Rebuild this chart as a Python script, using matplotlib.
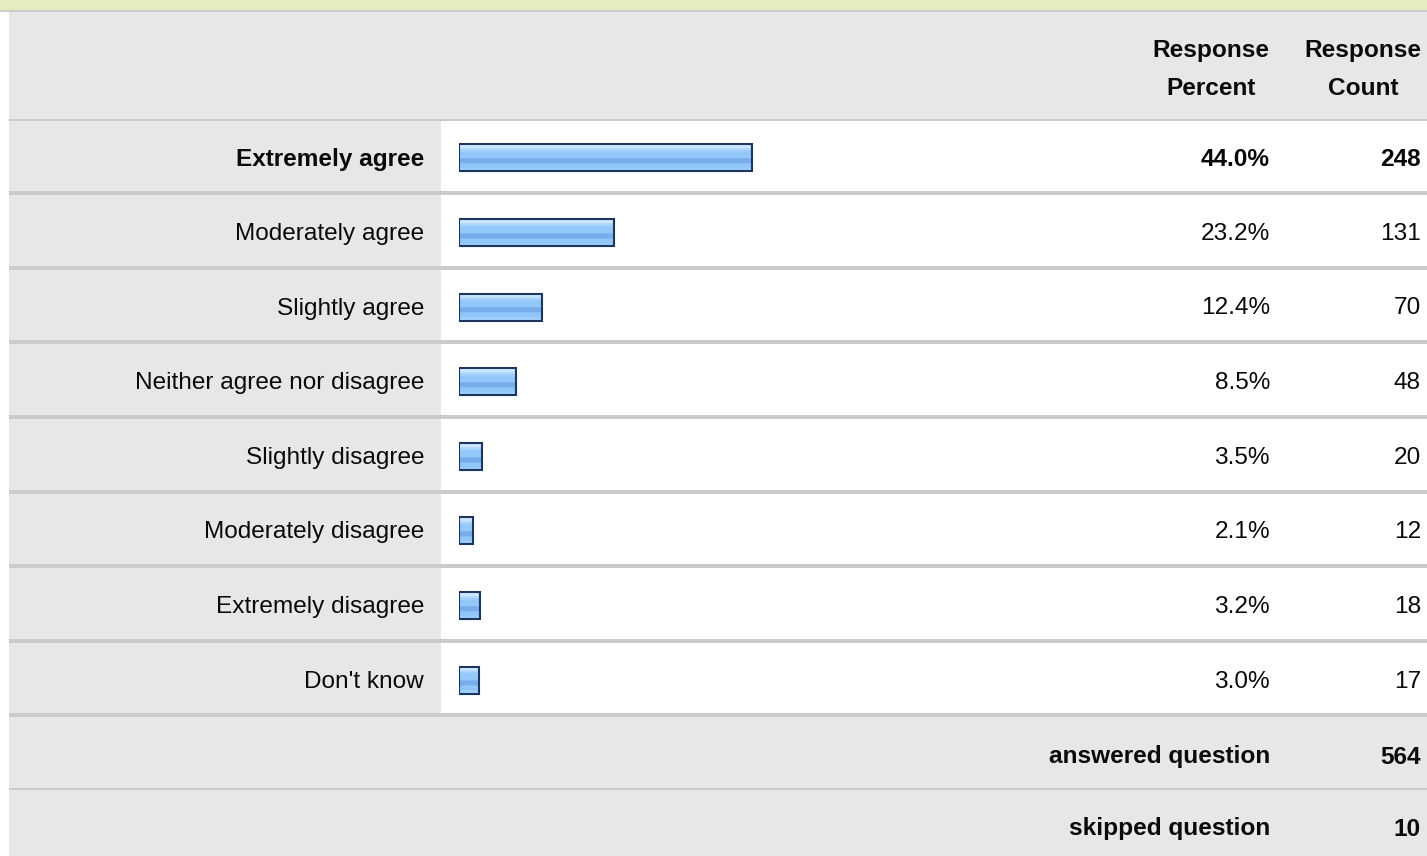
import matplotlib
matplotlib.use("Agg")
import matplotlib.pyplot as plt
import numpy as np
from matplotlib.patches import Rectangle
from matplotlib.colors import to_rgb

plt.rcParams['font.family'] = ['Liberation Sans', 'DejaVu Sans']

categories = ["Extremely agree", "Moderately agree", "Slightly agree",
              "Neither agree nor disagree", "Slightly disagree",
              "Moderately disagree", "Extremely disagree", "Don't know"]
percents = [44.0, 23.2, 12.4, 8.5, 3.5, 2.1, 3.2, 3.0]
counts = [248, 131, 70, 48, 20, 12, 18, 17]
header_cols = ["Response\nPercent", "Response\nCount"]
answered = 564
skipped = 10

W, H = 1427, 856
DPI = 100
fig = plt.figure(figsize=(W / DPI, H / DPI), dpi=DPI)
fig.patch.set_facecolor("white")

ax = fig.add_axes([0, 0, 1, 1])
ax.set_xlim(0, W)
ax.set_ylim(H, 0)
ax.axis("off")

GRAY = "#e7e7e7"
LINE = "#cbcbcb"
FS = 17.6
TC = "#0a0a0a"

def rect(x, y, w, h, c, z=0):
    ax.add_patch(Rectangle((x, y), w, h, facecolor=c, edgecolor="none", zorder=z))

# top band
rect(0, 0, W, 10, "#e6ebc0")
rect(0, 10, W, 2, LINE)
# header
rect(9, 12, W - 9, 107, GRAY)
rect(9, 119, W - 9, 2, LINE)

row_top = 120.5
n = len(categories)
row_h = 74.6
for i in range(n):
    y0 = row_top + i * row_h
    rect(9, y0, 432, row_h, GRAY)
    rect(441, y0, W - 441, row_h, "white")
    rect(9, y0 + row_h - 4, W - 9, 4, LINE, z=1)

foot0 = row_top + n * row_h
# footer rows
rect(9, foot0, W - 9, 788 - foot0, GRAY)
rect(9, 788, W - 9, 2, LINE)
rect(9, 790, W - 9, H - 790, GRAY)

# header texts
for txt, xc in zip(header_cols, [1211, 1363]):
    l1, l2 = txt.split("\n")
    ax.text(xc, 50, l1, ha="center", va="center", fontsize=FS, fontweight="bold", color=TC)
    ax.text(xc, 88, l2, ha="center", va="center", fontsize=FS, fontweight="bold", color=TC)

for i, (cat, p, c) in enumerate(zip(categories, percents, counts)):
    yc = row_top + (i + 0.5) * row_h + 1.5
    fw = "bold" if i == 0 else "normal"
    ax.text(424, yc, cat, ha="right", va="center", fontsize=FS, fontweight=fw, color=TC)
    ax.text(1270, yc, f"{p:.1f}%", ha="right", va="center", fontsize=FS, fontweight=fw, color=TC)
    ax.text(1421, yc, f"{c}", ha="right", va="center", fontsize=FS, fontweight=fw, color=TC)

ax.text(1270, 757, "answered question", ha="right", va="center", fontsize=FS, fontweight="bold", color=TC)
ax.text(1421, 757, f"{answered}", ha="right", va="center", fontsize=FS, fontweight="bold", color=TC)
ax.text(1270, 829, "skipped question", ha="right", va="center", fontsize=FS, fontweight="bold", color=TC)
ax.text(1421, 829, f"{skipped}", ha="right", va="center", fontsize=FS, fontweight="bold", color=TC)

# bar axes: 0..100 % mapped onto 666 px starting at x=459
bx0, bw = 459, 666
ay0 = row_top
ay1 = row_top + n * row_h
bax = fig.add_axes([bx0 / W, (H - ay1) / H, bw / W, (ay1 - ay0) / H])
bax.axis("off")
bax.patch.set_alpha(0)

ypos = np.arange(n)
bar_h = 27 / row_h
bars = bax.barh(ypos, percents, height=bar_h, color="#94c8fa",
                edgecolor="#1b3761", linewidth=1.5, zorder=3)

stops = (["#cde7fe"] * 4 + ["#b2d9fc"] * 2 + ["#9dcefb"] * 2 + ["#94c8fa"] * 6 +
         ["#7fb6f0"] * 1 + ["#76aeec"] * 4 + ["#86bdf4"] * 1 + ["#8fc5f8"] * 4 +
         ["#9ccdfa"] * 2 + ["#a8d4fb"] * 1)
grad = np.array([to_rgb(s) for s in stops])[:, None, :]
for b in bars:
    x, y = b.get_x(), b.get_y()
    w, h = b.get_width(), b.get_height()
    im = bax.imshow(grad, extent=(x, x + w, y + h, y), aspect="auto",
                    interpolation="nearest", zorder=2)
    im.set_clip_path(b)
    b.set_facecolor("none")

bax.set_xlim(0, 100)
bax.set_ylim(n - 0.5, -0.5)

fig.savefig("out.png", dpi=DPI)
